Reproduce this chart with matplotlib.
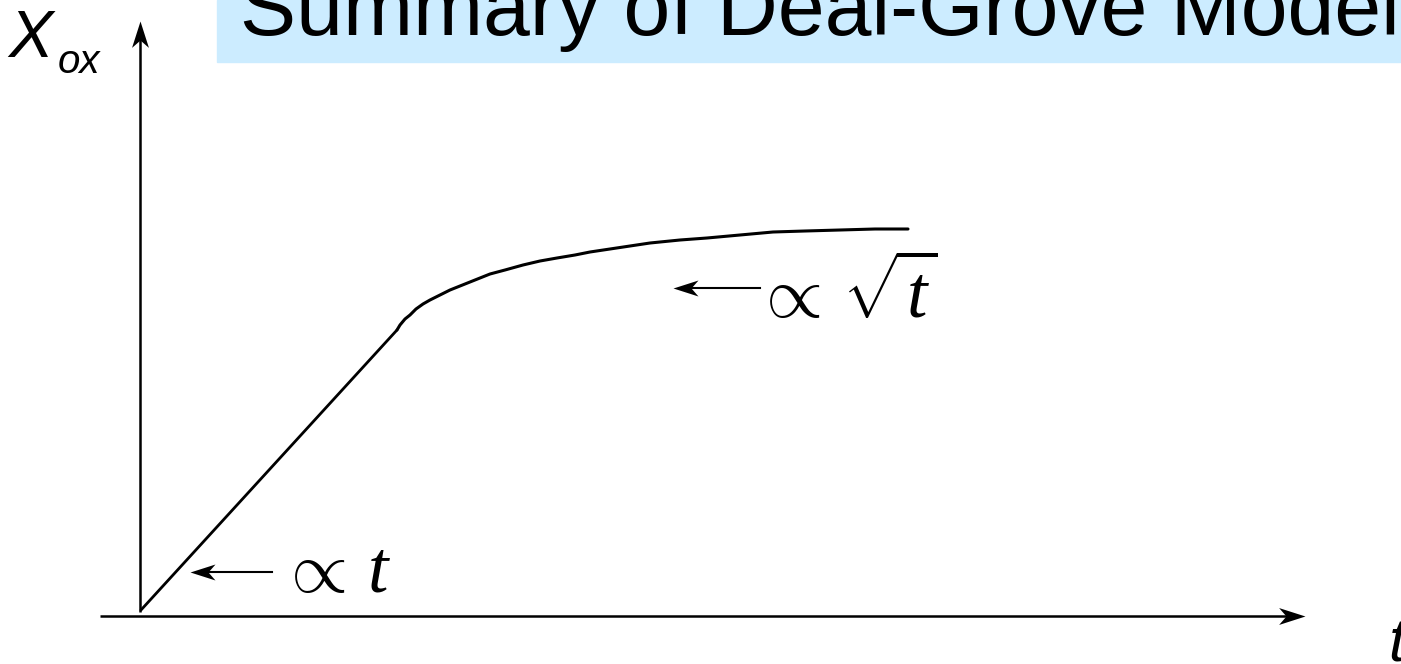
import matplotlib
matplotlib.use("Agg")
import matplotlib.pyplot as plt
from matplotlib.patches import Rectangle
from matplotlib.path import Path
from matplotlib.markers import MarkerStyle
from matplotlib.transforms import Affine2D

W, H = 1401, 664
DPI = 100

# Oxide thickness vs. time (plot units, origin at the axes corner)
t_linear = [1, 257]
x_linear = [6, 286]
t_parab = [257, 260, 265, 270, 276, 283, 290, 300, 310, 320, 335, 350, 365, 383,
           400, 417, 435, 450, 470, 490, 510, 540, 567, 600, 633, 665, 700, 735, 768]
x_parab = [286, 291, 297, 301, 307, 312, 316, 321, 326, 330, 336, 342, 346, 351,
           355, 358, 361, 364, 367, 370, 373, 376, 378, 381, 384, 385, 386, 387, 387]

title = "Summary of Deal-Grove Model"
label_linear = r"$\propto\,t$"
label_parab = r"$\propto\,\sqrt{t}$"

plt.rcParams["mathtext.fontset"] = "custom"
plt.rcParams["mathtext.rm"] = "Liberation Serif"
plt.rcParams["mathtext.it"] = "Liberation Serif:italic"
plt.rcParams["mathtext.fallback"] = "cm"

fig = plt.figure(figsize=(W / DPI, H / DPI), dpi=DPI)
fig.patch.set_facecolor("white")

# origin of the t / X_ox axes sits at pixel (140, 616)
ox_px, oy_px = 140, 616
ax = fig.add_axes([0, 0, 1, 1])
ax.set_xlim(-ox_px, W - ox_px)
ax.set_ylim(-(H - oy_px), oy_px)
ax.axis("off")

# notched arrow head, tip at the origin, pointing +x
head = Path([(0, 0), (-1, 0.32), (-0.72, 0), (-1, -0.32), (0, 0)],
            [Path.MOVETO, Path.LINETO, Path.LINETO, Path.LINETO, Path.CLOSEPOLY])


def arrow_head(x, y, angle, size):
    m = MarkerStyle(head, transform=Affine2D().rotate_deg(angle))
    ax.plot([x], [y], marker=m, markersize=size, color="black",
            markeredgewidth=0, linestyle="none")


# axes with arrows
ax.plot([0, 0], [4, 580], color="black", lw=1.8, solid_capstyle="butt")
arrow_head(0, 595, 90, 38)
ax.plot([-40, 1150], [0, 0], color="black", lw=1.8, solid_capstyle="butt")
arrow_head(1165, 0, 0, 38)

# growth curve: linear regime then parabolic regime
ax.plot(t_linear, x_linear, color="black", lw=2.0, solid_capstyle="round")
ax.plot(t_parab, x_parab, color="black", lw=2.2, solid_capstyle="round",
        solid_joinstyle="round")

# pointer arrows with labels
ax.plot([132, 62], [44, 44], color="black", lw=1.5)
arrow_head(50, 44, 180, 36)
ax.text(140, 24, label_linear, fontsize=53, math_fontfamily="custom",
        ha="left", va="baseline")

ax.plot([620, 545], [328, 328], color="black", lw=1.5)
arrow_head(533, 328, 180, 36)
ax.text(615, 298, label_parab, fontsize=53, math_fontfamily="custom",
        ha="left", va="baseline")

# axis labels
fig.text(8 / W, 1 - 57 / H, "X", fontsize=48, family="Liberation Sans",
         style="italic", ha="left", va="baseline")
fig.text(58 / W, 1 - 73 / H, "ox", fontsize=29, family="Liberation Sans",
         style="italic", ha="left", va="baseline")
fig.text(1388 / W, 1 - 662 / H, "t", fontsize=44, family="Liberation Sans",
         style="italic", ha="left", va="baseline")

# title banner
fig.patches.append(Rectangle((217 / W, 1 - 62 / H), (W - 217) / W, 62 / H,
                             transform=fig.transFigure, color="#CCECFF",
                             zorder=0))
fig.text(240 / W, 1 - 35 / H, title, fontsize=60.6, family="Liberation Sans",
         ha="left", va="baseline")

fig.savefig("out.png", dpi=DPI)
